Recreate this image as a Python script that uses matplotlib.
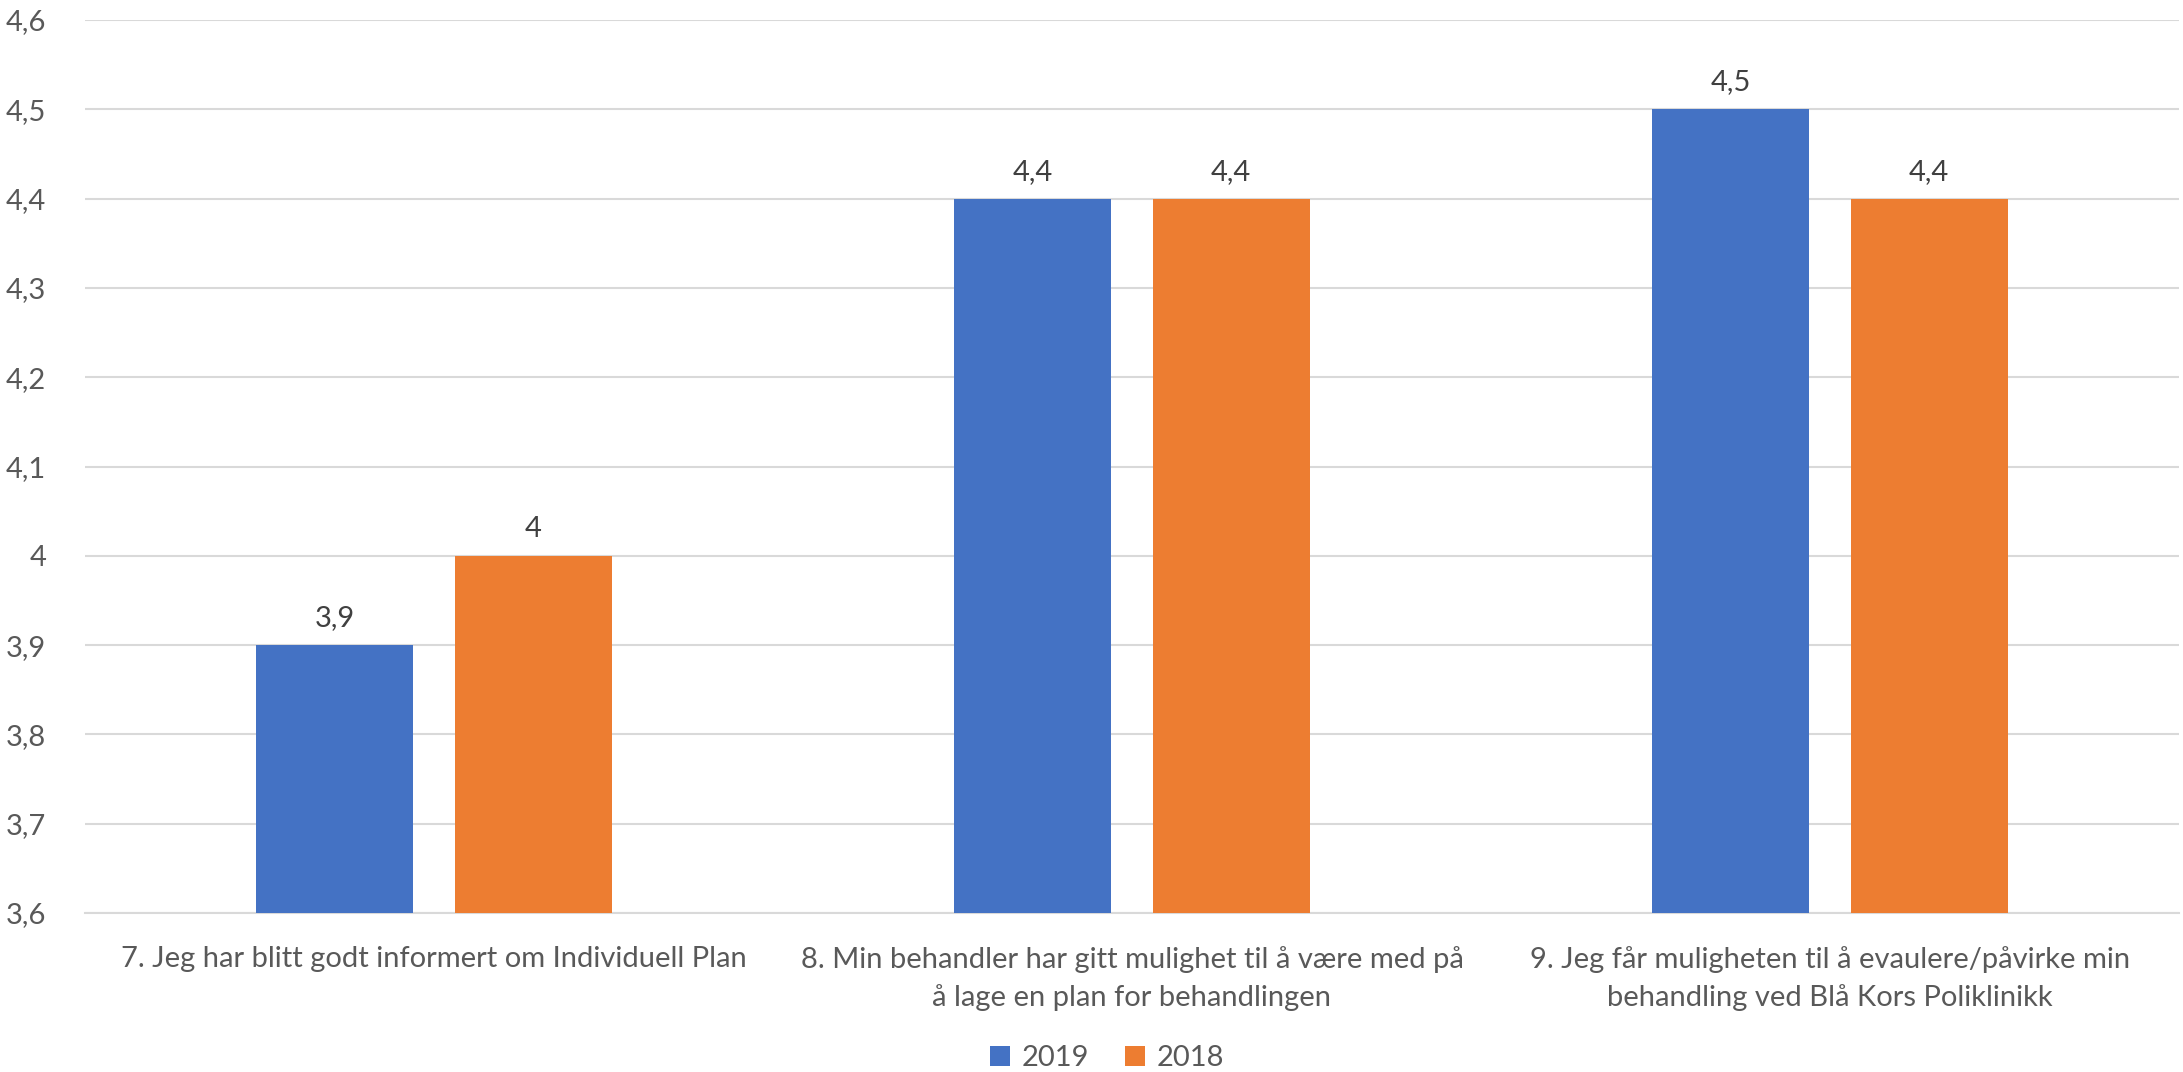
import numpy as np
import matplotlib.pyplot as plt
from matplotlib.ticker import FuncFormatter

# ============================================================
# DADOS
# ============================================================
kategorier = [
    "7. Jeg har blitt godt informert om Individuell Plan",
    "8. Min behandler har gitt mulighet til å være med på\nå lage en plan for behandlingen",
    "9. Jeg får muligheten til å evaulere/påvirke min\nbehandling ved Blå Kors Poliklinikk",
]
verdier_2019 = [3.9, 4.4, 4.5]
verdier_2018 = [4.0, 4.4, 4.4]
serier = ["2019", "2018"]

BLA = "#4472C4"
ORANSJE = "#ED7D31"
TEKST = "#595959"

plt.rcParams['font.family'] = ['Lato', 'DejaVu Sans']


def komma(v, pos=None):
    s = f"{v:.1f}".rstrip('0').rstrip('.')
    return s.replace('.', ',')


fig = plt.figure(figsize=(21.83, 10.72), dpi=100)
ax = fig.add_axes([85 / 2183, 1 - 913 / 1072, (2179 - 85) / 2183, (913 - 20) / 1072])

x = np.arange(len(kategorier))
bredde = 0.225
forskyv = 0.142

b1 = ax.bar(x - forskyv, verdier_2019, bredde, color=BLA, label=serier[0], zorder=3)
b2 = ax.bar(x + forskyv, verdier_2018, bredde, color=ORANSJE, label=serier[1], zorder=3)

for stolper in (b1, b2):
    ax.bar_label(stolper, labels=[komma(v) for v in stolper.datavalues],
                 padding=10, fontsize=21, color="#404040")

ax.set_ylim(3.6, 4.6)
ax.set_xlim(-0.5, 2.5)
ax.set_yticks(np.round(np.arange(3.6, 4.61, 0.1), 1))
ax.yaxis.set_major_formatter(FuncFormatter(komma))
ax.grid(axis='y', color="#D9D9D9", linewidth=1.5, zorder=0)
ax.set_axisbelow(True)

ax.set_xticks(x)
ax.set_xticklabels(kategorier, fontsize=21, color=TEKST, linespacing=1.5)
ax.tick_params(axis='y', labelsize=21, labelcolor=TEKST, length=0, pad=28)
ax.tick_params(axis='x', length=0, pad=24)

for side in ['top', 'right', 'left']:
    ax.spines[side].set_visible(False)
ax.spines['bottom'].set_color("#D9D9D9")
ax.spines['bottom'].set_linewidth(1.5)

fig.legend(loc='center', bbox_to_anchor=(1107 / 2183, 1 - 1058 / 1072), ncol=2,
           frameon=False, fontsize=21, labelcolor=TEKST,
           handlelength=0.7, handleheight=0.7, handletextpad=0.4, columnspacing=1.2)

fig.savefig("out.png", dpi=100)
